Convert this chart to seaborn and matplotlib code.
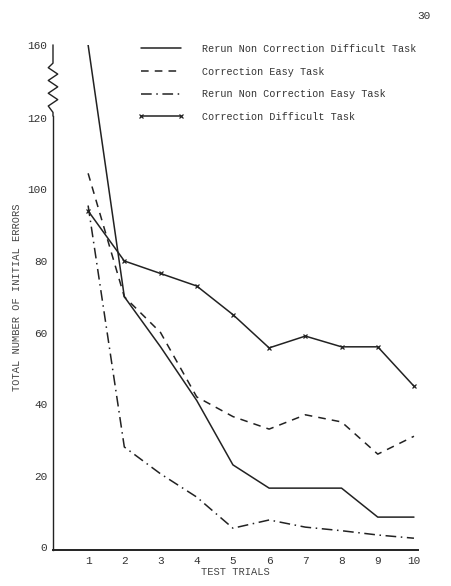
import numpy as np
import pandas as pd
import seaborn as sns
import matplotlib.pyplot as plt
import matplotlib.transforms as mtransforms

# values
trials = [1, 2, 3, 4, 5, 6, 7, 8, 9, 10]
rerun_difficult = [160, 70, 56, 41, 23, 16.5, 16.5, 16.5, 8.4, 8.4]
correction_easy = [104.5, 70, 60, 42, 36.5, 33, 37, 35, 26, 31]
rerun_easy = [95.5, 28, 20.5, 14, 5.3, 7.6, 5.6, 4.6, 3.4, 2.5]
correction_difficult = [94, 80, 76.5, 73, 65, 55.7, 59, 56, 56, 45]

series_names = ['Rerun Non Correction Difficult Task', 'Correction Easy Task',
                'Rerun Non Correction Easy Task', 'Correction Difficult Task']
y_ticks = [0, 20, 40, 60, 80, 100, 120, 160]

df = pd.DataFrame({
    'trial': trials * 4,
    'errors': rerun_difficult + correction_easy + rerun_easy + correction_difficult,
    'series': np.repeat(series_names, len(trials)),
})

sns.set_style('white')
plt.rcParams['font.family'] = ['Liberation Mono', 'DejaVu Sans Mono']

fig = plt.figure(figsize=(4.51, 5.86), dpi=100)
ax = fig.add_axes([0.1175, 0.0614, 0.81, 0.862])

# broken axis above 120: compress the 120-160 band
k = 0.51
def fwd(y):
    y = np.asarray(y, dtype=float)
    return np.where(y <= 120, y, 120 + (y - 120) * k)
def inv(y):
    y = np.asarray(y, dtype=float)
    return np.where(y <= 120, y, 120 + (y - 120) / k)
ax.set_yscale('function', functions=(fwd, inv))

styles = {
    series_names[0]: dict(ls='-', marker=None),
    series_names[1]: dict(ls=(0, (5, 4)), marker=None),
    series_names[2]: dict(ls=(0, (7, 3, 1, 3)), marker=None),
    series_names[3]: dict(ls='-', marker='x'),
}
for name in series_names:
    sub = df[df['series'] == name]
    st = styles[name]
    sns.lineplot(data=sub, x='trial', y='errors', ax=ax, color='#222222', lw=1.1,
                 linestyle=st['ls'], marker=st['marker'], markersize=2.8,
                 markeredgewidth=0.9, markeredgecolor='#222222', label=name)

ax.set_xlim(0.03, 10.12)
ax.set_ylim(-0.8, 160)
ax.set_xticks(trials)
ax.set_yticks(y_ticks)
ax.set_yticklabels([str(t) for t in y_ticks])
ax.tick_params(axis='both', labelsize=8, length=2, width=0.8, colors='#333333', pad=2)
ax.tick_params(axis='x', length=0, pad=4)

for s in ['top', 'right']:
    ax.spines[s].set_visible(False)
ax.spines['left'].set_color('#222222')
ax.spines['bottom'].set_color('#222222')
ax.spines['bottom'].set_linewidth(1.4)
ax.spines['left'].set_linewidth(1.0)
ax.spines['left'].set_bounds(-0.8, 121)

# zigzag break on the y axis
trans = mtransforms.blended_transform_factory(ax.transAxes, ax.transData)
zz_y = [121, 123, 126.5, 130, 133.5, 137, 140.5, 144, 147.5, 150, 160]
zz_x = [0, 0, -0.013, 0.013, -0.013, 0.013, -0.013, 0.013, -0.013, 0, 0]
ax.plot(zz_x, zz_y, transform=trans, color='#222222', lw=1.0, clip_on=False)

ax.set_xlabel('TEST TRIALS', fontsize=7.5, color='#444444', labelpad=1)
ax.set_ylabel('TOTAL NUMBER OF INITIAL ERRORS', fontsize=7.5, color='#444444')
ax.yaxis.set_label_coords(-0.085, 0.5)

leg = ax.legend(loc='upper right', bbox_to_anchor=(1.02, 1.02), frameon=False,
                fontsize=7.3, handlelength=4.5, handletextpad=1.8, labelspacing=1.25,
                numpoints=2)
for t in leg.get_texts():
    t.set_color('#333333')

fig.text(0.955, 0.972, '30', fontsize=8, ha='right', va='center', color='#333333')

fig.savefig('out.png', dpi=100)
